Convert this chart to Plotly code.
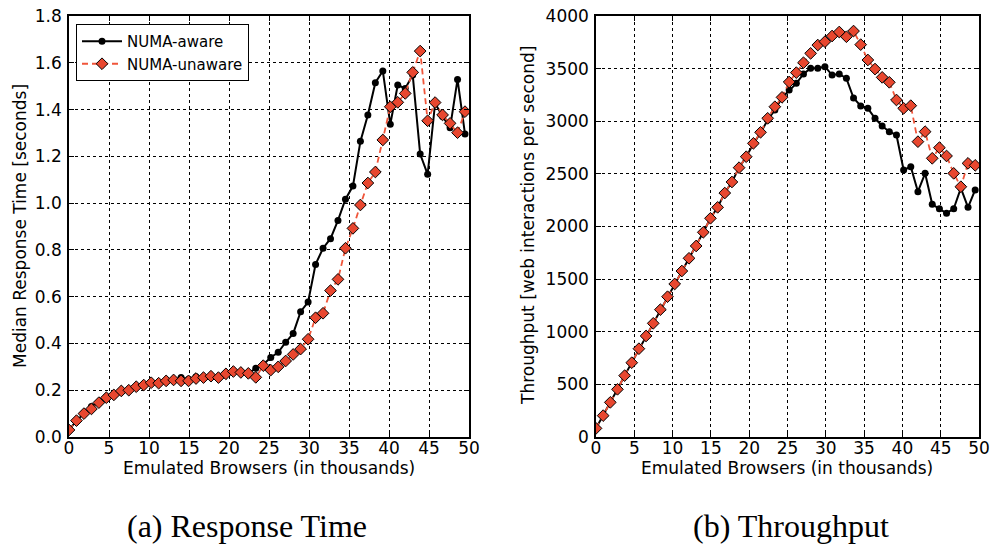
import plotly.graph_objects as go

# x positions: 54 load levels (thousands of emulated browsers)
n_points = 54
x_step = 49.5 / 53
x_vals = [round(i * x_step, 3) for i in range(n_points)]

resp_aware = [0.03, 0.07, 0.10, 0.13, 0.147, 0.172, 0.18, 0.197, 0.20, 0.215,
              0.222, 0.232, 0.23, 0.24, 0.244, 0.254, 0.247, 0.258, 0.254, 0.26,
              0.254, 0.27, 0.28, 0.276, 0.272, 0.294, 0.31, 0.34, 0.362, 0.405,
              0.442, 0.536, 0.577, 0.738, 0.807, 0.848, 0.926, 1.017, 1.073, 1.264,
              1.377, 1.515, 1.565, 1.337, 1.505, 1.49, 1.548, 1.21, 1.123, 1.427,
              1.37, 1.322, 1.529, 1.295]
resp_unaware = [0.03, 0.07, 0.10, 0.12, 0.147, 0.168, 0.18, 0.197, 0.20, 0.215,
                0.222, 0.232, 0.23, 0.24, 0.244, 0.24, 0.24, 0.25, 0.254, 0.26,
                0.254, 0.27, 0.28, 0.276, 0.272, 0.255, 0.305, 0.286, 0.30, 0.325,
                0.353, 0.376, 0.418, 0.51, 0.529, 0.626, 0.674, 0.807, 0.892, 0.992,
                1.086, 1.133, 1.27, 1.412, 1.431, 1.469, 1.559, 1.65, 1.352, 1.43,
                1.377, 1.341, 1.301, 1.391]

tput_aware = [82, 203, 329, 453, 583, 706, 839, 960, 1080, 1210,
              1333, 1454, 1577, 1698, 1815, 1945, 2078, 2182, 2318, 2423,
              2559, 2663, 2785, 2890, 3012, 3107, 3224, 3297, 3360, 3449,
              3503, 3503, 3519, 3439, 3449, 3408, 3221, 3145, 3123, 3028,
              2955, 2901, 2869, 2537, 2568, 2331, 2505, 2211, 2169, 2125,
              2169, 2365, 2182, 2347]
tput_unaware = [82, 203, 329, 453, 583, 706, 839, 960, 1080, 1210,
                1333, 1454, 1577, 1698, 1815, 1945, 2078, 2182, 2318, 2423,
                2559, 2663, 2790, 2895, 3028, 3138, 3227, 3373, 3462, 3556,
                3645, 3724, 3756, 3810, 3848, 3803, 3857, 3728, 3582, 3496,
                3417, 3370, 3202, 3123, 3148, 2806, 2901, 2648, 2749, 2670,
                2505, 2378, 2600, 2581]

x_ticks = list(range(0, 51, 5))
resp_ticks = [round(0.2 * i, 1) for i in range(10)]
tput_ticks = list(range(0, 4001, 500))

W, H = 993, 547
def px(x): return x / W
def py(y): return 1 - y / H

BLACK = "#000000"
RED_FILL = "#e8472f"
RED_LINE = "#f0553a"
FONT = "DejaVu Sans"
TICK_FONT = dict(family=FONT, size=17, color="black")

fig = go.Figure()

def add_pair(ya, yb, xaxis, yaxis, show):
    fig.add_trace(go.Scatter(
        x=x_vals, y=ya, mode="lines+markers", name="NUMA-aware",
        line=dict(color=BLACK, width=2),
        marker=dict(symbol="circle", size=7, color=BLACK),
        xaxis=xaxis, yaxis=yaxis, showlegend=show))
    fig.add_trace(go.Scatter(
        x=x_vals, y=yb, mode="lines+markers", name="NUMA-unaware",
        line=dict(color=RED_LINE, width=1.8, dash="6px,4px"),
        marker=dict(symbol="diamond", size=9, color=RED_FILL,
                    line=dict(color=BLACK, width=1)),
        xaxis=xaxis, yaxis=yaxis, showlegend=show))

add_pair(resp_aware, resp_unaware, "x", "y", True)
add_pair(tput_aware, tput_unaware, "x2", "y2", False)

axis_common = dict(
    automargin=False,
    showline=True, linecolor="black", linewidth=1.5, mirror="allticks",
    ticks="inside", ticklen=5, tickwidth=1, tickcolor="black",
    showgrid=True, gridcolor="black", gridwidth=1, griddash="dot",
    zeroline=False, tickfont=TICK_FONT,
)
x_extra = dict(ticklabelstandoff=-5)
y_extra = dict(ticklabelstandoff=2)

fig.update_layout(
    template="none",
    width=W, height=H,
    margin=dict(l=0, r=0, t=0, b=0, autoexpand=False),
    paper_bgcolor="white", plot_bgcolor="white",
    xaxis=dict(domain=[px(69), px(469)], range=[0, 50], tickvals=x_ticks,
               anchor="y", **axis_common, **x_extra),
    yaxis=dict(domain=[py(437), py(16)], range=[0, 1.8], tickvals=resp_ticks,
               tickformat=".1f", anchor="x", **axis_common, **y_extra),
    xaxis2=dict(domain=[px(596), px(979)], range=[0, 50], tickvals=x_ticks,
                anchor="y2", **axis_common, **x_extra),
    yaxis2=dict(domain=[py(437), py(16)], range=[0, 4000], tickvals=tput_ticks,
                anchor="x2", **axis_common, **y_extra),
    legend=dict(x=px(76), y=py(24), xanchor="left", yanchor="top",
                bordercolor="black", borderwidth=1, bgcolor="white",
                font=dict(family=FONT, size=15, color="black"),
                tracegroupgap=0, itemwidth=40),
    showlegend=True,
)

title_font = dict(family=FONT, size=17, color="black")
caption_font = dict(family="Liberation Serif, DejaVu Serif", size=32, color="black")
annots = [
    dict(x=px(269), y=py(468), text="Emulated Browsers (in thousands)", font=title_font),
    dict(x=px(787), y=py(468), text="Emulated Browsers (in thousands)", font=title_font),
    dict(x=px(20), y=py(226), text="Median Response Time [seconds]", font=title_font, textangle=-90),
    dict(x=px(528), y=py(226), text="Throughput [web interactions per second]", font=title_font, textangle=-90),
    dict(x=px(247), y=py(526), text="(a) Response Time", font=caption_font),
    dict(x=px(791), y=py(526), text="(b) Throughput", font=caption_font),
]
for a in annots:
    fig.add_annotation(xref="paper", yref="paper", showarrow=False,
                       xanchor="center", yanchor="middle", **a)

fig.write_html("out.html",
               config={"displayModeBar": False},
               post_script="document.body.style.margin='0px';"
                           "document.body.style.overflow='hidden';")
